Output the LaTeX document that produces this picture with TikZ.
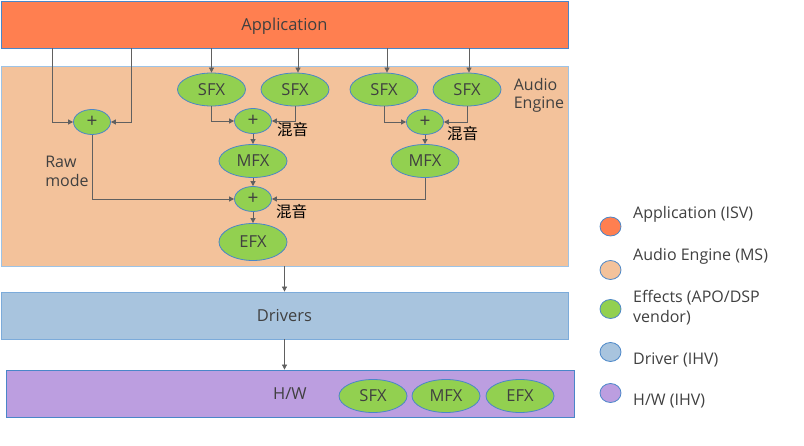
\documentclass[tikz,border=0pt]{standalone}
\usepackage{fontspec}
\setmainfont{Open Sans}
\newfontfamily\cjk{Noto Sans CJK SC}
\usetikzlibrary{shapes.geometric,arrows.meta}
\definecolor{appc}{HTML}{FF7F50}
\definecolor{aec}{HTML}{F3C29B}
\definecolor{effc}{HTML}{92D050}
\definecolor{drvc}{HTML}{A8C4DE}
\definecolor{hwc}{HTML}{BC9EE0}
\definecolor{bordc}{HTML}{4A86C8}
\definecolor{aebord}{HTML}{9DC3E6}
\definecolor{txtc}{HTML}{404040}
\definecolor{arrc}{HTML}{606060}
\begin{document}
\begin{tikzpicture}[x=1pt,y=-1pt,
  layer/.style={draw=bordc, line width=0.8pt, inner sep=0pt, minimum width=567pt, minimum height=47pt, text=txtc, font=\fontsize{16.5}{19}\selectfont, text height=11.8pt, text depth=0pt},
  eff/.style={ellipse, draw=bordc, fill=effc, line width=0.8pt, minimum width=68pt, minimum height=33pt, inner sep=0pt, text=txtc, font=\fontsize{16.5}{19}\selectfont, text height=11.8pt, text depth=0pt},
  mixer/.style={eff, minimum width=37pt, minimum height=25pt, font=\fontsize{19}{21}\selectfont, text height=12pt},
  mixlabel/.style={anchor=west, inner sep=0pt, font=\cjk\fontsize{15.5}{17}\selectfont, text=black},
  arr/.style={draw=arrc, line width=0.8pt, -{Triangle[length=5pt,width=5pt]}},
  lgdot/.style={ellipse, draw=bordc, line width=0.8pt, minimum width=21pt, minimum height=19pt, inner sep=0pt},
  lgtext/.style={anchor=west, inner sep=0pt, align=left, text=txtc, font=\fontsize{16}{20}\selectfont}
]
\useasboundingbox (0,0) rectangle (804,446);
% layers
\node[layer, fill=appc] (app) at (284.5,24.5) {Application};
\node[layer, draw=aebord, fill=aec, minimum height=200pt] (ae) at (284.5,166) {};
\node[layer, draw=aebord!60!bordc, fill=drvc] (drv) at (284.5,315.5) {Drivers};
\node[layer, fill=hwc, minimum width=568pt] (hw) at (290,393.5) {H/W};
\node[anchor=center, align=left, inner sep=0pt, text=txtc, font=\fontsize{16}{18}\selectfont] (aelbl) at (539,95) {Audio\\Engine};
\node[anchor=center, align=left, inner sep=0pt, text=txtc, font=\fontsize{16}{19}\selectfont] (rawlbl) at (67,171.5) {Raw\\mode};
% effects
\node[eff] (sfx1) at (211.5,89.5) {SFX};
\node[eff] (sfx2) at (295,89.5) {SFX};
\node[eff] (sfx3) at (384,89.5) {SFX};
\node[eff] (sfx4) at (467,89.5) {SFX};
\node[mixer] (mixraw) at (92,122) {+};
\node[mixer] (mix1) at (253,121) {+};
\node[mixer] (mix2) at (425,122) {+};
\node[eff] (mfx1) at (253,161) {MFX};
\node[eff] (mfx2) at (425,161) {MFX};
\node[mixer] (mix3) at (253,199) {+};
\node[eff, minimum height=37pt] (efx) at (253,242) {EFX};
\node[mixlabel] (ml1) at (277,130) {混音};
\node[mixlabel] (ml2) at (447,134) {混音};
\node[mixlabel] (ml3) at (276,212) {混音};
% hardware effects
\node[eff] (hsfx) at (373,396) {SFX};
\node[eff] (hmfx) at (446,396) {MFX};
\node[eff] (hefx) at (520,396) {EFX};
% connectors
\coordinate (rawL) at (52,48);
\coordinate (rawR) at (131,48);
\draw[arr] (rawL) |- (mixraw.west);
\draw[arr] (rawR) |- (mixraw.east);
\draw[arr] (app.south -| sfx1.north) -- (sfx1.north);
\draw[arr] ([xshift=3pt]app.south -| sfx2.north) -- ([xshift=3pt]sfx2.north);
\draw[arr] ([xshift=3pt]app.south -| sfx3.north) -- ([xshift=3pt]sfx3.north);
\draw[arr] ([xshift=2pt]app.south -| sfx4.north) -- ([xshift=2pt]sfx4.north);
\draw[arr] (sfx1.south) |- (mix1.west);
\draw[arr] (sfx2.south) |- (mix1.east);
\draw[arr] (sfx3.south) |- (mix2.west);
\draw[arr] (sfx4.south) |- (mix2.east);
\draw[arr] (mix1) -- (mfx1);
\draw[arr] (mix2) -- (mfx2);
\draw[arr] (mfx1) -- (mix3);
\draw[arr] (mfx2.south) |- (mix3.east);
\draw[arr] (mixraw.south) |- (mix3.west);
\draw[arr] (mix3) -- (efx);
\draw[arr] (ae.south) -- (drv.north);
\draw[arr] (drv.south) -- (drv.south |- hw.north);
% legend
\node[lgdot, fill=appc] (lg1) at (610.5,226.5) {};
\node[lgdot, fill=aec] (lg2) at (610.5,270) {};
\node[lgdot, fill=effc] (lg3) at (610.5,309) {};
\node[lgdot, fill=drvc] (lg4) at (610.5,352) {};
\node[lgdot, fill=hwc] (lg5) at (610.5,393) {};
\node[lgtext] (lt1) at (633,214) {Application (ISV)};
\node[lgtext] (lt2) at (633,256) {Audio Engine (MS)};
\node[lgtext] (lt3) at (633,308) {Effects (APO/DSP\\vendor)};
\node[lgtext] (lt4) at (633,360) {Driver (IHV)};
\node[lgtext] (lt5) at (633,401) {H/W (IHV)};
\end{tikzpicture}
\end{document}
